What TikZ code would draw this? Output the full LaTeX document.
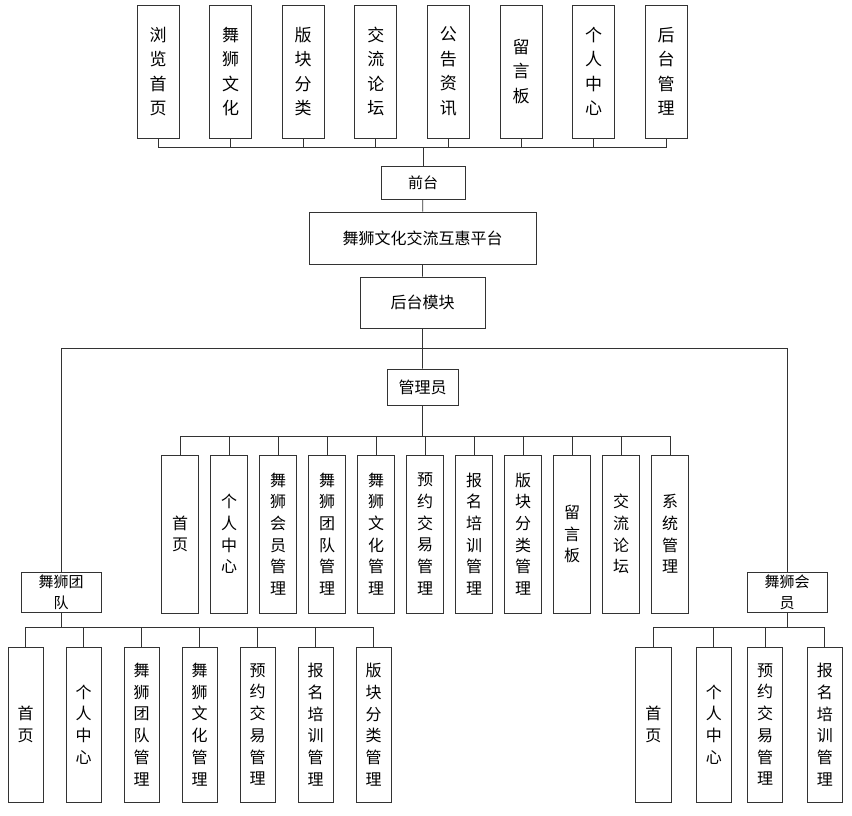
\documentclass[tikz,border=0pt]{standalone}
\usepackage{fontspec}
\setmainfont{Noto Sans CJK SC}
\usetikzlibrary{positioning,calc}
\tikzset{
  box/.style={draw=black!80,fill=white,line width=0.8pt,inner sep=0pt,align=center,text=black},
  topbox/.style={box,minimum width=42pt,minimum height=133pt,font=\fontsize{17}{24.5}\selectfont},
  vbox/.style={box,minimum width=36pt,minimum height=157pt,font=\fontsize{16}{21.7}\selectfont},
  hbox/.style={box,font=\fontsize{15}{20}\selectfont},
  link/.style={draw=black!80,line width=0.8pt}
}

\begin{document}
\begin{tikzpicture}[x=1pt,y=-1pt]
  \useasboundingbox (0,0) rectangle (852,815);
  % front-end pages
  \foreach \lbl [count=\i] in {浏\\览\\首\\页,舞\\狮\\文\\化,版\\块\\分\\类,交\\流\\论\\坛,公\\告\\资\\讯,留\\言\\板,个\\人\\中\\心,后\\台\\管\\理}
    \node[topbox] (t\i) at ({158+72.6*(\i-1)},71.5) {\lbl};
  \node[hbox,minimum width=84pt,minimum height=33pt] (front) at (423,182.5) {前台};
  \node[hbox,minimum width=227pt,minimum height=52pt,font=\fontsize{16}{20}\selectfont] (platform) at (422.5,238) {舞狮文化交流互惠平台};
  \node[hbox,minimum width=125pt,minimum height=51pt,font=\fontsize{16}{20}\selectfont] (back) at (422.5,302.5) {后台模块};
  \node[hbox,minimum width=71pt,minimum height=36pt,font=\fontsize{16}{20}\selectfont] (admin) at (422.5,387) {管理员};
  \node[hbox,minimum width=80pt,minimum height=40pt,font=\fontsize{15}{21}\selectfont] (team) at (61,592) {舞狮团\\队};
  \node[hbox,minimum width=80pt,minimum height=40pt,font=\fontsize{15}{21}\selectfont] (member) at (787,592) {舞狮会\\员};
  % admin modules
  \foreach \lbl [count=\i] in {首\\页,个\\人\\中\\心,舞\\狮\\会\\员\\管\\理,舞\\狮\\团\\队\\管\\理,舞\\狮\\文\\化\\管\\理,预\\约\\交\\易\\管\\理,报\\名\\培\\训\\管\\理,版\\块\\分\\类\\管\\理,留\\言\\板,交\\流\\论\\坛,系\\统\\管\\理}
    \node[vbox,minimum width=37pt,minimum height=158pt] (a\i) at ({180+49*(\i-1)},534) {\lbl};
  % team modules
  \foreach \lbl [count=\i] in {首\\页,个\\人\\中\\心,舞\\狮\\团\\队\\管\\理,舞\\狮\\文\\化\\管\\理,预\\约\\交\\易\\管\\理,报\\名\\培\\训\\管\\理,版\\块\\分\\类\\管\\理}
    \node[vbox,minimum width=35pt,minimum height=155pt] (g\i) at ({25.5+58*(\i-1)},724.5) {\lbl};
  % member modules
  \foreach \lbl/\xx [count=\i] in {首\\页/653.3,个\\人\\中\\心/713.8,预\\约\\交\\易\\管\\理/765,报\\名\\培\\训\\管\\理/824.8}
    \node[vbox,minimum width=35.5pt,minimum height=155pt] (h\i) at (\xx,724.5) {\lbl};

  % connectors
  \draw[link] (front.north) -- ++(0,-18) coordinate (topbus);
  \foreach \i in {1,...,8}
    \draw[link] (t\i.south) |- (topbus);
  \draw[link] (front) -- (platform) -- (back) -- (admin);
  \coordinate (split) at ($(back.south)!0.5!(admin.north)$);
  \draw[link] (team.north) |- (split) -| (member.north);
  \draw[link] (admin.south) -- ++(0,31) coordinate (abus);
  \foreach \i in {1,...,11}
    \draw[link] (a\i.north) |- (abus);
  \draw[link] (team.south) -- ++(0,15) coordinate (gbus);
  \foreach \i in {1,...,7}
    \draw[link] (g\i.north) |- (gbus);
  \draw[link] (member.south) -- ++(0,15) coordinate (hbus);
  \foreach \i in {1,...,4}
    \draw[link] (h\i.north) |- (hbus);
\end{tikzpicture}
\end{document}
